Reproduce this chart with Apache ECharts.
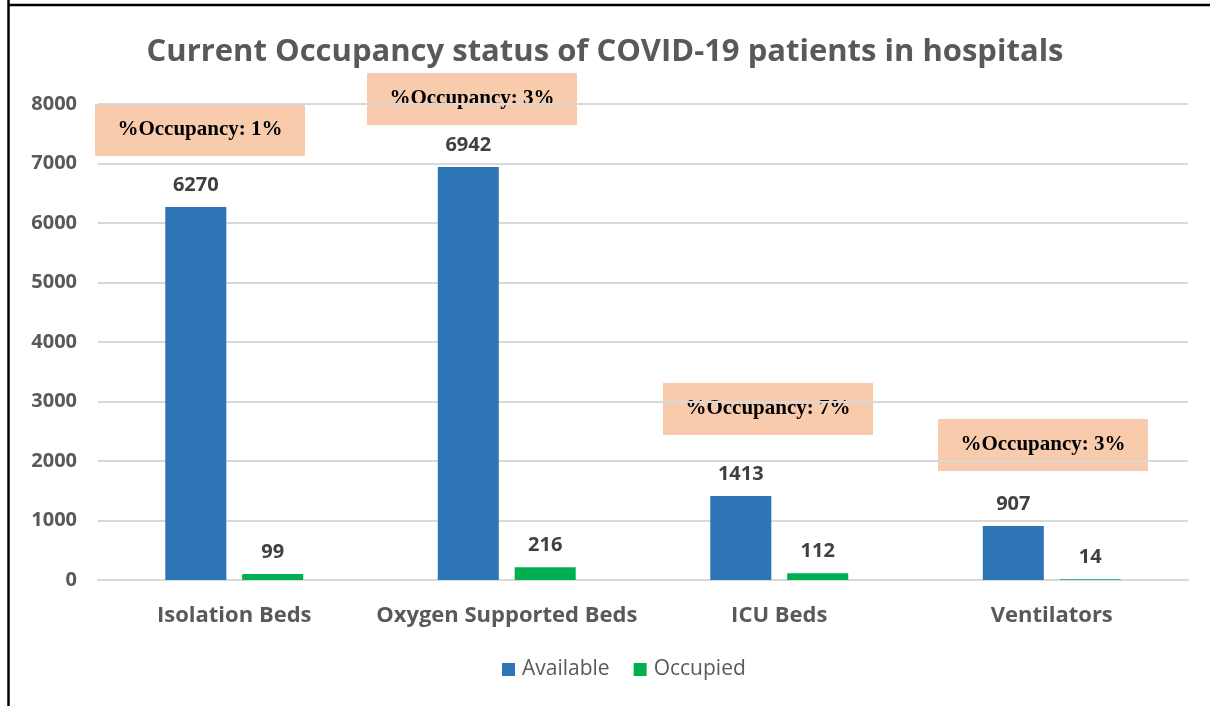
<!DOCTYPE html>
<html>
<head>
<meta charset="utf-8">
<script src="https://cdn.jsdelivr.net/npm/echarts@6/dist/echarts.min.js"></script>
<style>
html,body{margin:0;padding:0;background:#fff;}
#chart{width:1210px;height:706px;}
</style>
</head>
<body>
<div id="chart"></div>
<script>
const categories = ['Isolation Beds', 'Oxygen Supported Beds', 'ICU Beds', 'Ventilators'];
const available = [6270, 6942, 1413, 907];
const occupied = [99, 216, 112, 14];
const occupancyNotes = ['%Occupancy: 1%', '%Occupancy: 3%', '%Occupancy: 7%', '%Occupancy: 3%'];
const yTicks = [0, 1000, 2000, 3000, 4000, 5000, 6000, 7000, 8000];

const chart = echarts.init(document.getElementById('chart'));
const FONT = '"Open Sans", sans-serif';

// annotation box positions (left, top) in pixels
const notePos = [[95, 104], [367, 73], [663, 383], [938, 419]];

const graphics = [
  {type:'line', shape:{x1:8.5, y1:0, x2:8.5, y2:706}, style:{stroke:'#000', lineWidth:2.5}, z:100},
  {type:'line', shape:{x1:8, y1:5, x2:1210, y2:5}, style:{stroke:'#000', lineWidth:2.5}, z:100}
];
occupancyNotes.forEach((t, i) => {
  graphics.push({
    type:'group', left:notePos[i][0], top:notePos[i][1], z:50,
    children:[
      {type:'rect', shape:{x:0, y:0, width:210, height:52}, style:{fill:'#F8CBAD'}},
      {type:'text', x:105, y:26, style:{text:t, fill:'#000', font:'bold 21px "Liberation Serif", serif', align:'center', verticalAlign:'middle'}}
    ]
  });
});

const option = {
  backgroundColor:'#fff',
  animation:false,
  title:{
    text:'Current Occupancy status of COVID-19 patients in hospitals',
    left:'center', top:32,
    textStyle:{fontFamily:FONT, fontWeight:'bold', fontSize:31, color:'#595959'}
  },
  legend:{
    bottom:21, left:497, itemWidth:13, itemHeight:13, itemGap:24,
    icon:'rect',
    textStyle:{fontFamily:FONT, fontSize:21, color:'#595959', padding:[0,0,0,2]},
    data:['Available','Occupied']
  },
  grid:{left:98, right:22, top:104, bottom:126, containLabel:false},
  xAxis:{
    type:'category', data:categories,
    axisLine:{lineStyle:{color:'#d9d9d9', width:2}},
    axisTick:{show:false},
    axisLabel:{interval:0, fontFamily:FONT, fontWeight:'bold', fontSize:22, color:'#595959', margin:25}
  },
  yAxis:{
    type:'value', min:yTicks[0], max:yTicks[yTicks.length-1], interval:1000,
    axisLine:{show:false}, axisTick:{show:false},
    splitLine:{lineStyle:{color:'#d9d9d9', width:2}},
    axisLabel:{formatter:v => String(v), fontFamily:FONT, fontWeight:'bold', fontSize:20, color:'#595959', margin:21}
  },
  series:[
    {
      name:'Available', type:'bar', data:available,
      barWidth:'22.4%', barGap:'26%',
      itemStyle:{color:'#2E75B6'},
      label:{show:true, position:'top', distance:12, fontFamily:FONT, fontWeight:'bold', fontSize:20, color:'#404040'}
    },
    {
      name:'Occupied', type:'bar', data:occupied,
      barWidth:'22.4%',
      itemStyle:{color:'#00B050'},
      label:{show:true, position:'top', distance:12, fontFamily:FONT, fontWeight:'bold', fontSize:20, color:'#404040'}
    }
  ],
  graphic:graphics
};
chart.setOption(option);
</script>
</body>
</html>
